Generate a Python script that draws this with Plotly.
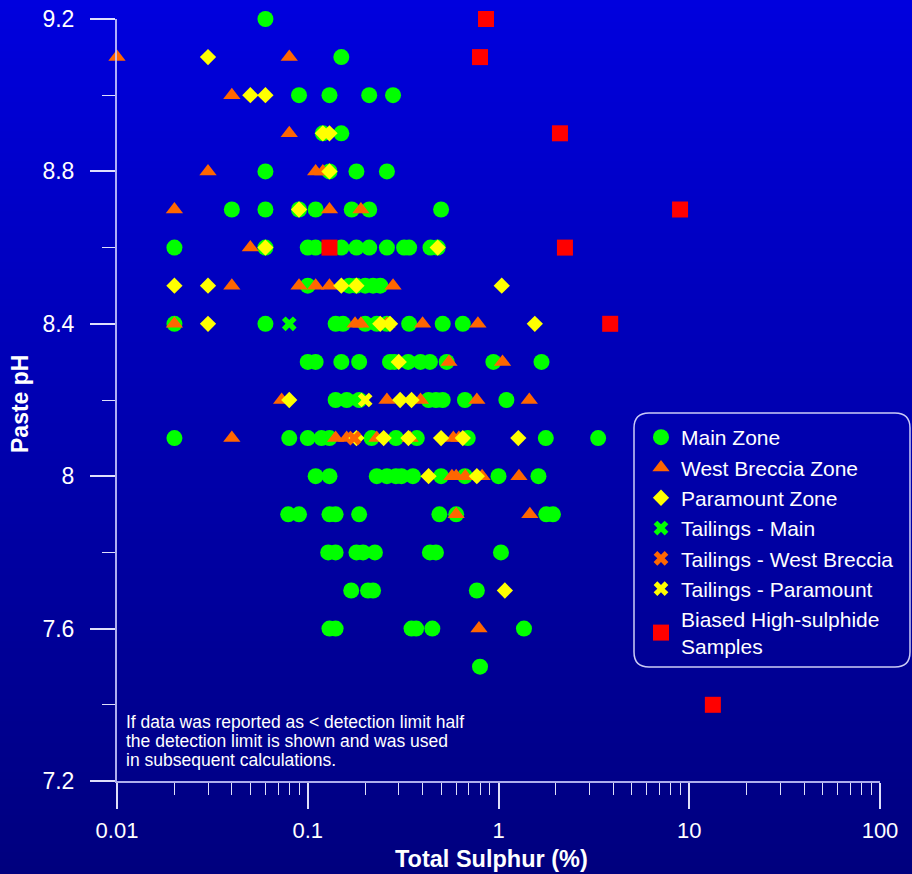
import plotly.graph_objects as go

# ---------------- data (Total Sulphur %, Paste pH) ----------------
main_x = [0.06,
          0.15,
          0.09, 0.13, 0.21, 0.28,
          0.12, 0.15,
          0.06, 0.13, 0.18, 0.26,
          0.04, 0.06, 0.09, 0.11, 0.17, 0.21, 0.5,
          0.02, 0.06, 0.10, 0.11, 0.15, 0.18, 0.21, 0.26, 0.32, 0.34, 0.44, 0.48,
          0.10, 0.165, 0.18, 0.20, 0.22, 0.24,
          0.02, 0.06, 0.14, 0.153, 0.20, 0.23, 0.26, 0.34, 0.51, 0.65,
          0.10, 0.11, 0.15, 0.186, 0.27, 0.285, 0.336, 0.39, 0.437, 0.535, 0.94, 1.68,
          0.14, 0.16, 0.186, 0.43, 0.47, 0.51, 0.667, 1.10,
          0.02, 0.08, 0.10, 0.118, 0.13, 0.216, 0.29, 0.373, 0.69, 1.77, 3.33,
          0.11, 0.13, 0.23, 0.26, 0.29, 0.31, 0.356, 0.5, 0.667, 1.0, 1.62,
          0.079, 0.09, 0.13, 0.14, 0.186, 0.49, 0.6, 1.78, 1.93,
          0.128, 0.14, 0.18, 0.195, 0.225, 0.437, 0.47, 1.03,
          0.169, 0.207, 0.22, 0.77,
          0.13, 0.14, 0.35, 0.37, 0.45, 1.36,
          0.8]
main_y = [9.2,
          9.1,
          9.0, 9.0, 9.0, 9.0,
          8.9, 8.9,
          8.8, 8.8, 8.8, 8.8,
          8.7, 8.7, 8.7, 8.7, 8.7, 8.7, 8.7,
          8.6, 8.6, 8.6, 8.6, 8.6, 8.6, 8.6, 8.6, 8.6, 8.6, 8.6, 8.6,
          8.5, 8.5, 8.5, 8.5, 8.5, 8.5,
          8.4, 8.4, 8.4, 8.4, 8.4, 8.4, 8.4, 8.4, 8.4, 8.4,
          8.3, 8.3, 8.3, 8.3, 8.3, 8.3, 8.3, 8.3, 8.3, 8.3, 8.3, 8.3,
          8.2, 8.2, 8.2, 8.2, 8.2, 8.2, 8.2, 8.2,
          8.1, 8.1, 8.1, 8.1, 8.1, 8.1, 8.1, 8.1, 8.1, 8.1, 8.1,
          8.0, 8.0, 8.0, 8.0, 8.0, 8.0, 8.0, 8.0, 8.0, 8.0, 8.0,
          7.9, 7.9, 7.9, 7.9, 7.9, 7.9, 7.9, 7.9, 7.9,
          7.8, 7.8, 7.8, 7.8, 7.8, 7.8, 7.8, 7.8,
          7.7, 7.7, 7.7, 7.7,
          7.6, 7.6, 7.6, 7.6, 7.6, 7.6,
          7.5]

wb_x = [0.01, 0.08,
        0.04,
        0.08,
        0.03, 0.11, 0.12,
        0.02, 0.13, 0.19,
        0.05,
        0.04, 0.09, 0.11, 0.13, 0.28,
        0.02, 0.177, 0.19, 0.26, 0.40, 0.78,
        0.55, 1.05,
        0.073, 0.26, 0.39, 0.77, 1.45,
        0.04, 0.14, 0.16, 0.23, 0.344, 0.58, 0.62,
        0.57, 0.60, 0.67, 0.82, 1.28,
        0.60, 1.46,
        0.79]
wb_y = [9.1, 9.1,
        9.0,
        8.9,
        8.8, 8.8, 8.8,
        8.7, 8.7, 8.7,
        8.6,
        8.5, 8.5, 8.5, 8.5, 8.5,
        8.4, 8.4, 8.4, 8.4, 8.4, 8.4,
        8.3, 8.3,
        8.2, 8.2, 8.2, 8.2, 8.2,
        8.1, 8.1, 8.1, 8.1, 8.1, 8.1, 8.1,
        8.0, 8.0, 8.0, 8.0, 8.0,
        7.9, 7.9,
        7.6]

para_x = [0.03,
          0.05, 0.06,
          0.12, 0.13,
          0.13,
          0.09,
          0.06, 0.48,
          0.02, 0.03, 0.15, 0.18, 1.04,
          0.03, 0.24, 0.27, 1.55,
          0.30,
          0.08, 0.305, 0.35,
          0.18, 0.25, 0.337, 0.5, 0.65, 1.27,
          0.43, 0.77,
          1.08]
para_y = [9.1,
          9.0, 9.0,
          8.9, 8.9,
          8.8,
          8.7,
          8.6, 8.6,
          8.5, 8.5, 8.5, 8.5, 8.5,
          8.4, 8.4, 8.4, 8.4,
          8.3,
          8.2, 8.2, 8.2,
          8.1, 8.1, 8.1, 8.1, 8.1, 8.1,
          8.0, 8.0,
          7.7]

tail_main_x = [0.08]
tail_main_y = [8.4]
tail_wb_x = [0.175]
tail_wb_y = [8.1]
tail_para_x = [0.2]
tail_para_y = [8.2]

biased_x = [0.86, 0.80, 2.1, 8.95, 0.13, 2.23, 3.85, 13.3]
biased_y = [9.2, 9.1, 8.9, 8.7, 8.6, 8.6, 8.4, 7.4]

x_tickvals = [0.01, 0.1, 1, 10, 100]
x_ticktext = ["0.01", "0.1", "1", "10", "100"]
x_minor = [m * d for d in (0.01, 0.1, 1, 10) for m in range(2, 10)]
y_tickvals = [7.2, 7.6, 8.0, 8.4, 8.8, 9.2]
y_ticktext = ["7.2", "7.6", "8", "8.4", "8.8", "9.2"]
y_minor = [7.4, 7.8, 8.2, 8.6, 9.0]

note_lines = ["If data was reported as &lt; detection limit half",
              "the detection limit is shown and was used",
              "in subsequent calculations."]

# ---------------- figure ----------------
W, H = 912, 874
ML, MR, MT, MB = 117, 32, 19, 93
PW, PH = W - ML - MR, H - MT - MB
FONT = "Arial, Liberation Sans, sans-serif"


def px2paper(px, py):
    return (px - ML) / PW, (H - MB - py) / PH


fig = go.Figure()

series = [
    ("Main Zone", main_x, main_y, "circle", 16, "#00FF00"),
    ("West Breccia Zone", wb_x, wb_y, "triangle-up", 15, "#FF6600"),
    ("Paramount Zone", para_x, para_y, "diamond", 12.5, "#FFFF00"),
    ("Tailings - Main", tail_main_x, tail_main_y, "x", 13, "#00FF00"),
    ("Tailings - West Breccia", tail_wb_x, tail_wb_y, "x", 13, "#FF6600"),
    ("Tailings - Paramount", tail_para_x, tail_para_y, "x", 13, "#FFFF00"),
    ("Biased High-sulphide<br>Samples", biased_x, biased_y, "square", 16, "#FF0000"),
]
for name, xs, ys, sym, size, col in series:
    fig.add_trace(go.Scatter(
        x=xs, y=ys, mode="markers", name=name, cliponaxis=False,
        marker=dict(symbol=sym, size=size, color=col, line=dict(width=0)),
    ))

# background gradient
shapes = []
n = 120
top_c, bot_c = (0, 0, 222), (0, 0, 126)
for i in range(n):
    t = (i + 0.5) / n
    c = tuple(round(top_c[k] + (bot_c[k] - top_c[k]) * t) for k in range(3))
    py0 = H * i / n
    py1 = H * (i + 1) / n + 0.8
    x0, y0 = px2paper(0, py0)
    x1, y1 = px2paper(W, py1)
    shapes.append(dict(type="rect", xref="paper", yref="paper", x0=x0, x1=x1,
                       y0=y1, y1=y0, fillcolor="rgb(%d,%d,%d)" % c,
                       line=dict(width=0), layer="below"))

# rounded legend frame
L, R, T, B, r = 634, 910, 413, 667, 15


def P(px, py):
    a, b = px2paper(px, py)
    return "%.5f,%.5f" % (a, b)


path = ("M" + P(L + r, T) + " L" + P(R - r, T) + " Q" + P(R, T) + " " + P(R, T + r) +
        " L" + P(R, B - r) + " Q" + P(R, B) + " " + P(R - r, B) +
        " L" + P(L + r, B) + " Q" + P(L, B) + " " + P(L, B - r) +
        " L" + P(L, T + r) + " Q" + P(L, T) + " " + P(L + r, T) + " Z")
shapes.append(dict(type="path", xref="paper", yref="paper", path=path,
                   line=dict(color="rgba(225,225,255,0.9)", width=1.5),
                   fillcolor="rgba(0,0,0,0)", layer="above"))

axis_col = "rgba(205,205,255,0.85)"
tick_col = "rgba(235,235,255,0.95)"

lx, ly = px2paper(641, 417)

fig.update_layout(
    width=W, height=H, autosize=False,
    margin=dict(l=ML, r=MR, t=MT, b=MB, pad=0, autoexpand=False),
    paper_bgcolor="rgb(0,0,126)", plot_bgcolor="rgba(0,0,0,0)",
    font=dict(family=FONT, color="white"),
    shapes=shapes,
    showlegend=True,
    legend=dict(x=lx, y=ly, xanchor="left", yanchor="top",
                bgcolor="rgba(0,0,0,0)", borderwidth=0,
                font=dict(family=FONT, size=21, color="white"),
                itemsizing="trace", tracegroupgap=0),
    xaxis=dict(type="log", range=[-2, 2], showgrid=False, zeroline=False,
               showline=True, linecolor=axis_col, linewidth=2, automargin=False,
               ticks="outside", ticklen=26, tickwidth=1.5, tickcolor=tick_col,
               tickvals=x_tickvals, ticktext=x_ticktext,
               tickfont=dict(family=FONT, size=22, color="white"),
               ticklabelstandoff=3,
               minor=dict(tickvals=x_minor, ticks="outside", ticklen=12,
                          tickwidth=1, tickcolor=tick_col, showgrid=False)),
    yaxis=dict(range=[7.2, 9.2], showgrid=False, zeroline=False,
               showline=True, linecolor=axis_col, linewidth=2, automargin=False,
               ticks="outside", ticklen=25, tickwidth=1.5, tickcolor=tick_col,
               tickvals=y_tickvals, ticktext=y_ticktext,
               tickfont=dict(family=FONT, size=23, color="white"),
               ticklabelstandoff=11,
               minor=dict(tickvals=y_minor, ticks="outside", ticklen=13,
                          tickwidth=1, tickcolor=tick_col, showgrid=False)),
)

for i, line in enumerate(note_lines):
    ax, ay = px2paper(124, 722 + 19 * i)
    fig.add_annotation(x=ax, y=ay, xref="paper", yref="paper", xanchor="left",
                       yanchor="middle", align="left", showarrow=False, text=line,
                       font=dict(family=FONT, size=17.5, color="white"))

tx, ty = px2paper(491, 859)
yx, yy = px2paper(20, 404)
fig.add_annotation(x=tx, y=ty, xref="paper", yref="paper", xanchor="center", yanchor="middle",
                   showarrow=False, text="<b>Total Sulphur (%)</b>",
                   font=dict(family=FONT, size=23.5, color="white"))
fig.add_annotation(x=yx, y=yy, xref="paper", yref="paper", xanchor="center", yanchor="middle",
                   showarrow=False, textangle=-90, text="<b>Paste pH</b>",
                   font=dict(family=FONT, size=23, color="white"))

fig.write_html("out.html",
               config={"displayModeBar": False},
               post_script="document.body.style.margin='0';"
                           "document.body.style.overflow='hidden';")
